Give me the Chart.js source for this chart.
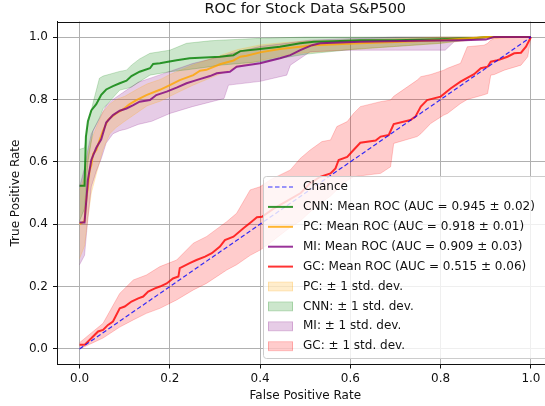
<!DOCTYPE html>
<html>
<head>
<meta charset="utf-8">
<script src="https://cdn.jsdelivr.net/npm/chart.js@4.4.0/dist/chart.umd.min.js"></script>
<style>
  html, body { margin: 0; padding: 0; background: #fff; overflow: hidden; }
  #rocChart { display: block; }
</style>
</head>
<body>
<canvas id="rocChart" width="560" height="406"></canvas>
<script>
// Chance line
const chanceFpr = [0, 1];
const chanceTpr = [0, 1];

// Mean ROC curves
const cnnFpr = [0, 0.011, 0.014, 0.0185, 0.026, 0.037, 0.048, 0.059, 0.074, 0.089, 0.104, 0.115, 0.133, 0.156, 0.163, 0.178, 0.193, 0.215, 0.244, 0.289, 0.311, 0.341, 0.356, 0.4, 0.444, 0.489, 0.519, 0.563, 0.622, 0.7, 0.8, 0.88, 0.9, 1.0];
const cnnTpr = [0.523, 0.523, 0.68, 0.73, 0.765, 0.785, 0.815, 0.832, 0.843, 0.852, 0.86, 0.875, 0.889, 0.9, 0.914, 0.916, 0.92, 0.926, 0.932, 0.935, 0.937, 0.942, 0.955, 0.962, 0.969, 0.98, 0.985, 0.987, 0.99, 0.99, 0.993, 0.997, 1.0, 1.0];

const pcFpr = [0, 0.011, 0.015, 0.0185, 0.022, 0.026, 0.03, 0.037, 0.041, 0.052, 0.063, 0.067, 0.081, 0.096, 0.111, 0.126, 0.148, 0.178, 0.2, 0.222, 0.252, 0.267, 0.281, 0.311, 0.341, 0.356, 0.37, 0.4, 0.444, 0.489, 0.519, 0.622, 0.7, 0.8, 0.88, 0.9, 1.0];
const pcTpr = [0.4, 0.41, 0.48, 0.52, 0.57, 0.59, 0.625, 0.638, 0.655, 0.7, 0.734, 0.74, 0.755, 0.768, 0.785, 0.798, 0.814, 0.831, 0.846, 0.862, 0.878, 0.892, 0.895, 0.913, 0.925, 0.937, 0.94, 0.951, 0.962, 0.969, 0.974, 0.98, 0.984, 0.99, 0.998, 1.0, 1.0];

const miFpr = [0, 0.011, 0.0185, 0.026, 0.037, 0.048, 0.059, 0.074, 0.089, 0.104, 0.119, 0.133, 0.156, 0.17, 0.193, 0.215, 0.237, 0.259, 0.289, 0.304, 0.333, 0.348, 0.4, 0.444, 0.467, 0.489, 0.515, 0.533, 0.622, 0.75, 0.85, 0.9, 0.918, 1.0];
const miTpr = [0.405, 0.405, 0.542, 0.606, 0.645, 0.672, 0.726, 0.75, 0.764, 0.771, 0.782, 0.793, 0.798, 0.814, 0.825, 0.838, 0.852, 0.862, 0.875, 0.884, 0.889, 0.905, 0.916, 0.932, 0.942, 0.958, 0.974, 0.98, 0.985, 0.988, 0.99, 0.992, 1.0, 1.0];

const gcFpr = [0, 0.011, 0.026, 0.041, 0.052, 0.063, 0.074, 0.089, 0.1, 0.115, 0.13, 0.141, 0.152, 0.167, 0.178, 0.193, 0.207, 0.219, 0.222, 0.244, 0.259, 0.278, 0.293, 0.311, 0.322, 0.341, 0.363, 0.381, 0.393, 0.404, 0.43, 0.46, 0.49, 0.51, 0.533, 0.556, 0.567, 0.574, 0.593, 0.607, 0.622, 0.656, 0.667, 0.685, 0.696, 0.733, 0.744, 0.756, 0.77, 0.8, 0.822, 0.844, 0.874, 0.889, 0.904, 0.911, 0.926, 0.948, 0.963, 0.978, 0.989, 1.0];
const gcTpr = [0.013, 0.013, 0.034, 0.056, 0.061, 0.077, 0.088, 0.13, 0.136, 0.152, 0.162, 0.168, 0.184, 0.194, 0.2, 0.21, 0.226, 0.232, 0.259, 0.275, 0.285, 0.296, 0.307, 0.328, 0.349, 0.36, 0.387, 0.408, 0.422, 0.424, 0.45, 0.475, 0.5, 0.53, 0.552, 0.563, 0.579, 0.606, 0.616, 0.638, 0.661, 0.668, 0.681, 0.686, 0.721, 0.734, 0.745, 0.777, 0.798, 0.809, 0.835, 0.857, 0.881, 0.9, 0.905, 0.921, 0.926, 0.937, 0.948, 0.95, 0.969, 1.0];

// +/- 1 std. dev. bands
const cnnBandFpr = [0, 0.011, 0.0185, 0.03, 0.044, 0.052, 0.089, 0.104, 0.115, 0.133, 0.156, 0.2, 0.237, 0.289, 0.311, 0.4, 0.5, 0.6, 0.7, 0.8, 0.9, 1.0];
const cnnLower = [0.41, 0.45, 0.6, 0.7, 0.74, 0.77, 0.83, 0.835, 0.84, 0.857, 0.878, 0.889, 0.895, 0.905, 0.91, 0.921, 0.945, 0.96, 0.97, 0.98, 1.0, 1.0];
const cnnUpper = [0.64, 0.645, 0.72, 0.79, 0.868, 0.875, 0.89, 0.894, 0.91, 0.93, 0.948, 0.958, 0.98, 0.988, 0.99, 0.996, 1.0, 1.0, 1.0, 1.0, 1.0, 1.0];

const pcBandFpr = [0, 0.011, 0.0185, 0.026, 0.037, 0.052, 0.067, 0.081, 0.1, 0.13, 0.15, 0.18, 0.2, 0.25, 0.3, 0.35, 0.4, 0.45, 0.5, 0.6, 0.7, 0.8, 0.9, 1.0];
const pcLower = [0.29, 0.33, 0.42, 0.5, 0.56, 0.64, 0.69, 0.71, 0.73, 0.76, 0.78, 0.795, 0.81, 0.845, 0.875, 0.905, 0.925, 0.94, 0.95, 0.96, 0.97, 0.98, 0.995, 1.0];
const pcUpper = [0.51, 0.55, 0.62, 0.67, 0.71, 0.76, 0.785, 0.8, 0.81, 0.835, 0.85, 0.865, 0.88, 0.91, 0.935, 0.96, 0.975, 0.982, 0.987, 0.99, 0.995, 1.0, 1.0, 1.0];

const miBandFpr = [0, 0.011, 0.0185, 0.026, 0.037, 0.048, 0.059, 0.074, 0.089, 0.104, 0.13, 0.16, 0.2, 0.25, 0.32, 0.33, 0.4, 0.459, 0.467, 0.511, 0.6, 0.7, 0.81, 0.83, 0.92, 1.0];
const miLower = [0.27, 0.3, 0.42, 0.52, 0.57, 0.61, 0.66, 0.69, 0.7, 0.705, 0.72, 0.73, 0.755, 0.777, 0.803, 0.846, 0.858, 0.878, 0.91, 0.953, 0.958, 0.958, 0.958, 0.985, 1.0, 1.0];
const miUpper = [0.52, 0.58, 0.64, 0.69, 0.72, 0.75, 0.78, 0.8, 0.815, 0.83, 0.855, 0.87, 0.89, 0.915, 0.94, 0.945, 0.97, 0.98, 0.982, 0.99, 0.995, 1.0, 1.0, 1.0, 1.0, 1.0];

const gcBandFpr = [0, 0.03, 0.052, 0.089, 0.119, 0.148, 0.178, 0.215, 0.252, 0.281, 0.326, 0.348, 0.378, 0.4, 0.422, 0.467, 0.489, 0.511, 0.537, 0.556, 0.57, 0.593, 0.607, 0.622, 0.667, 0.689, 0.696, 0.748, 0.756, 0.778, 0.807, 0.815, 0.844, 0.859, 0.896, 0.904, 0.911, 0.919, 0.941, 0.978, 0.993, 1.0];
const gcLower = [0.0, 0.02, 0.035, 0.07, 0.093, 0.114, 0.13, 0.157, 0.189, 0.21, 0.253, 0.27, 0.3, 0.317, 0.34, 0.39, 0.41, 0.44, 0.47, 0.49, 0.51, 0.54, 0.552, 0.555, 0.563, 0.584, 0.659, 0.681, 0.69, 0.723, 0.75, 0.755, 0.787, 0.8, 0.815, 0.819, 0.878, 0.88, 0.894, 0.91, 0.937, 1.0];
const gcUpper = [0.02, 0.056, 0.082, 0.178, 0.221, 0.237, 0.264, 0.285, 0.339, 0.36, 0.408, 0.435, 0.51, 0.52, 0.542, 0.574, 0.611, 0.638, 0.665, 0.67, 0.713, 0.729, 0.755, 0.777, 0.793, 0.798, 0.81, 0.862, 0.873, 0.88, 0.894, 0.9, 0.916, 0.969, 0.974, 0.98, 0.99, 0.996, 1.0, 1.0, 1.0, 1.0];

// Legend labels
const lineLabels = ['Chance', 'CNN: Mean ROC (AUC = 0.945 ± 0.02)', 'PC: Mean ROC (AUC = 0.918 ± 0.01)', 'MI: Mean ROC (AUC = 0.909 ± 0.03)', 'GC: Mean ROC (AUC = 0.515 ± 0.06)'];
const bandLabels = ['PC: ± 1 std. dev.', 'CNN: ± 1 std. dev.', 'MI: ± 1 std. dev.', 'GC: ± 1 std. dev.'];

// Colours
const lineColors = ['rgba(0,0,255,0.8)', 'rgba(0,128,0,0.8)', 'rgba(255,165,0,0.8)', 'rgba(128,0,128,0.8)', 'rgba(255,0,0,0.8)'];
const bandColors = ['rgba(255,165,0,0.2)', 'rgba(0,128,0,0.2)', 'rgba(128,0,128,0.2)', 'rgba(255,0,0,0.2)'];

const FONT = 'DejaVu Sans';
const TEXT = '#111';

function pts(xs, ys) {
    return xs.map((x, i) => ({ x: x, y: ys[i] }));
}

function meanLine(label, xs, ys, color, order) {
    return { label: label, data: pts(xs, ys), borderColor: color, borderWidth: 2, fill: false, order: order };
}

function bandPair(label, xs, lo, hi, color) {
    return [
        { label: label + ' lo', data: pts(xs, lo), borderColor: color, borderWidth: 1, fill: false, order: 10 },
        { label: label, data: pts(xs, hi), borderColor: color, borderWidth: 1, backgroundColor: color, fill: '-1', order: 10 }
    ];
}

const datasets = [
    { label: lineLabels[0], data: pts(chanceFpr, chanceTpr), borderColor: lineColors[0], borderWidth: 1.2, borderDash: [4.5, 2.5], fill: false, order: 0 },
    meanLine(lineLabels[1], cnnFpr, cnnTpr, lineColors[1], 4),
    meanLine(lineLabels[2], pcFpr, pcTpr, lineColors[2], 3),
    meanLine(lineLabels[3], miFpr, miTpr, lineColors[3], 2),
    meanLine(lineLabels[4], gcFpr, gcTpr, lineColors[4], 1),
    ...bandPair(bandLabels[0], pcBandFpr, pcLower, pcUpper, bandColors[0]),
    ...bandPair(bandLabels[1], cnnBandFpr, cnnLower, cnnUpper, bandColors[1]),
    ...bandPair(bandLabels[2], miBandFpr, miLower, miUpper, bandColors[2]),
    ...bandPair(bandLabels[3], gcBandFpr, gcLower, gcUpper, bandColors[3])
];

// top and right spines (matplotlib box)
const framePlugin = {
    id: 'frame',
    afterDatasetsDraw(chart) {
        const { ctx, chartArea } = chart;
        ctx.save();
        ctx.strokeStyle = TEXT;
        ctx.lineWidth = 1;
        ctx.beginPath();
        ctx.moveTo(chartArea.left, Math.round(chartArea.top) + 0.5);
        ctx.lineTo(chartArea.right, Math.round(chartArea.top) + 0.5);
        ctx.moveTo(Math.round(chartArea.right) + 0.5, chartArea.top);
        ctx.lineTo(Math.round(chartArea.right) + 0.5, chartArea.bottom);
        ctx.stroke();
        ctx.restore();
    }
};

// matplotlib-style legend in the lower right
const legendPlugin = {
    id: 'rocLegend',
    afterDraw(chart) {
        const ctx = chart.ctx;
        const x0 = 263.5, y0 = 176.5, w = 300, h = 182, r = 3;
        ctx.save();
        ctx.beginPath();
        ctx.moveTo(x0 + r, y0);
        ctx.lineTo(x0 + w - r, y0);
        ctx.arcTo(x0 + w, y0, x0 + w, y0 + r, r);
        ctx.lineTo(x0 + w, y0 + h - r);
        ctx.arcTo(x0 + w, y0 + h, x0 + w - r, y0 + h, r);
        ctx.lineTo(x0 + r, y0 + h);
        ctx.arcTo(x0, y0 + h, x0, y0 + h - r, r);
        ctx.lineTo(x0, y0 + r);
        ctx.arcTo(x0, y0, x0 + r, y0, r);
        ctx.closePath();
        ctx.fillStyle = 'rgba(255,255,255,0.8)';
        ctx.fill();
        ctx.strokeStyle = '#cccccc';
        ctx.lineWidth = 1;
        ctx.stroke();

        ctx.font = '12px "' + FONT + '"';
        ctx.textBaseline = 'middle';
        ctx.textAlign = 'left';
        const hx0 = 268, hx1 = 293, tx = 303, rowH = 19.9;
        let y = 187;
        lineLabels.forEach((label, i) => {
            ctx.beginPath();
            ctx.strokeStyle = lineColors[i];
            ctx.lineWidth = i === 0 ? 1.2 : 2;
            ctx.setLineDash(i === 0 ? [4.5, 2.5] : []);
            ctx.moveTo(hx0, y);
            ctx.lineTo(hx1, y);
            ctx.stroke();
            ctx.setLineDash([]);
            ctx.fillStyle = TEXT;
            ctx.fillText(label, tx, y);
            y += rowH;
        });
        bandLabels.forEach((label, i) => {
            ctx.fillStyle = bandColors[i];
            ctx.fillRect(hx0, y - 4.5, hx1 - hx0, 9);
            ctx.strokeStyle = bandColors[i];
            ctx.lineWidth = 1;
            ctx.strokeRect(hx0 + 0.5, y - 4.5, hx1 - hx0 - 1, 9);
            ctx.fillStyle = TEXT;
            ctx.fillText(label, tx, y);
            y += rowH;
        });
        ctx.restore();
    }
};

const axisTicks = {
    stepSize: 0.2,
    includeBounds: false,
    color: TEXT,
    font: { family: FONT, size: 12 },
    callback: v => v.toFixed(1)
};

new Chart(document.getElementById('rocChart').getContext('2d'), {
    type: 'line',
    data: { datasets: datasets },
    plugins: [framePlugin, legendPlugin],
    options: {
        responsive: false,
        animation: false,
        devicePixelRatio: 1,
        layout: { padding: { left: 0, right: 6.5, top: 0, bottom: 0 } },
        elements: { point: { radius: 0 }, line: { tension: 0 } },
        plugins: {
            legend: { display: false },
            tooltip: { enabled: false },
            filler: { drawTime: 'beforeDatasetsDraw' },
            title: {
                display: true,
                text: 'ROC for Stock Data S&P500',
                fullSize: false,
                color: TEXT,
                font: { family: FONT, size: 14.5, weight: 'normal' },
                padding: { top: 0.7, bottom: 3.4 }
            }
        },
        scales: {
            x: {
                type: 'linear',
                min: -0.05,
                max: 1.05,
                ticks: Object.assign({}, axisTicks, { padding: 3.3, maxRotation: 0 }),
                grid: { color: '#b0b0b0', lineWidth: 1, tickColor: TEXT, tickLength: 4 },
                border: { color: TEXT, width: 1 },
                title: { display: true, text: 'False Positive Rate', color: TEXT, font: { family: FONT, size: 12 }, padding: { top: 0, bottom: 2.8 } },
                afterFit: scale => { scale.height = 41.5; }
            },
            y: {
                type: 'linear',
                min: -0.05,
                max: 1.05,
                ticks: Object.assign({}, axisTicks, { padding: 5 }),
                grid: { color: '#b0b0b0', lineWidth: 1, tickColor: TEXT, tickLength: 4 },
                border: { color: TEXT, width: 1 },
                title: { display: true, text: 'True Positive Rate', color: TEXT, font: { family: FONT, size: 12 }, padding: { top: 8.6, bottom: 0 } },
                afterFit: scale => { scale.width = 57; }
            }
        }
    }
});
</script>
</body>
</html>
